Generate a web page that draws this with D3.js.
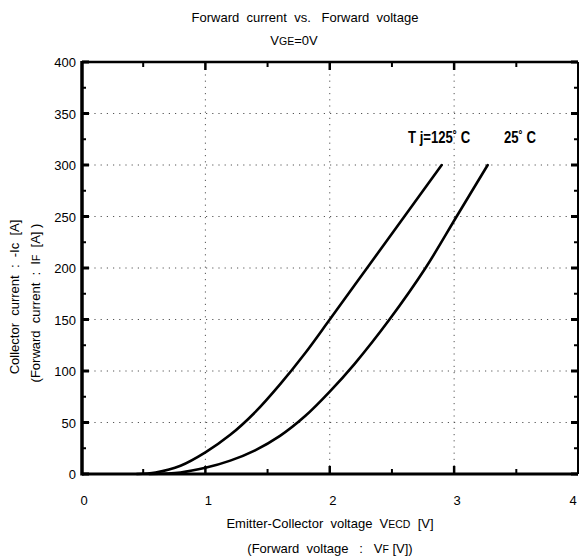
<!DOCTYPE html>
<html><head><meta charset="utf-8">
<script src="https://cdn.jsdelivr.net/npm/d3@7"></script>
<style>body{margin:0;background:#fff}svg{display:block}text{font-family:Arial,"Liberation Sans",sans-serif;fill:#000}</style>
</head><body><svg id="c" width="579" height="558"></svg>
<script>
const xTicks = [0, 1, 2, 3, 4];
const yTicks = [0, 50, 100, 150, 200, 250, 300, 350, 400];
const series125 = [[0.45,0],[0.6,1.5],[0.8,8],[1.0,21],[1.2,38],[1.4,60],[1.6,87],[1.8,117],[2.0,150],[2.3,200],[2.6,250],[2.9,300]];
const series25 = [[0.55,0],[0.8,1.5],[1.0,6],[1.2,13],[1.4,23],[1.6,37],[1.8,56],[2.0,80],[2.2,107],[2.48,150],[2.77,200],[3.02,250],[3.27,300]];

const svg = d3.select("#c");
const L = 82, R = 578, T = 62, B = 474;
const x = d3.scaleLinear().domain([0,4]).range([81,578.5]);
const y = d3.scaleLinear().domain([0,400]).range([B,T]);

// grid
const g = svg.append("g").attr("stroke","#555").attr("stroke-width",1).attr("stroke-dasharray","1.2,5");
[1,2,3].forEach(v=>g.append("line").attr("x1",x(v)).attr("x2",x(v)).attr("y1",T).attr("y2",B));
[50,100,150,200,250,300,350].forEach(v=>g.append("line").attr("x1",L).attr("x2",R).attr("y1",y(v)).attr("y2",y(v)));

// ticks (inward)
const tk = svg.append("g").attr("stroke","#000");
d3.range(0.5,4.01,0.5).forEach(v=>{
  const maj = Math.abs(v-Math.round(v))<1e-6;
  tk.append("line").attr("x1",x(v)).attr("x2",x(v)).attr("y1",B).attr("y2",B-(maj?8:5)).attr("stroke-width",maj?2.5:2);
  tk.append("line").attr("x1",x(v)).attr("x2",x(v)).attr("y1",T).attr("y2",T+(maj?8:5)).attr("stroke-width",maj?2.5:2);
});
d3.range(0,401,25).forEach(v=>{
  const maj = v%50===0;
  tk.append("line").attr("x1",L).attr("x2",L+(maj?7:4)).attr("y1",y(v)).attr("y2",y(v)).attr("stroke-width",maj?3:2);
  tk.append("line").attr("x1",R).attr("x2",R-(maj?7:4)).attr("y1",y(v)).attr("y2",y(v)).attr("stroke-width",maj?3:2);
});

// frame
svg.append("line").attr("x1",L).attr("x2",R).attr("y1",T).attr("y2",T).attr("stroke","#000").attr("stroke-width",2.5);
svg.append("line").attr("x1",R).attr("x2",R).attr("y1",T).attr("y2",B).attr("stroke","#000").attr("stroke-width",2);
svg.append("line").attr("x1",L).attr("x2",R).attr("y1",B).attr("y2",B).attr("stroke","#000").attr("stroke-width",3);
svg.append("line").attr("x1",L).attr("x2",L).attr("y1",T-1).attr("y2",B+1.5).attr("stroke","#000").attr("stroke-width",3.5);

// tick labels
svg.append("g").selectAll("text").data(xTicks).join("text")
  .attr("x",d=>Math.min(x(d)+3,573)).attr("y",505).attr("text-anchor","middle").attr("font-size",13).text(d=>d);
svg.append("g").selectAll("text").data(yTicks).join("text")
  .attr("x",76).attr("y",d=>y(d)+5).attr("text-anchor","end").attr("font-size",13).text(d=>d);

// curves
const line = d3.line().x(d=>x(d[0])).y(d=>y(d[1])).curve(d3.curveCatmullRom.alpha(0.5));
[series125, series25].forEach(s=>svg.append("path").attr("d",line(s)).attr("fill","none").attr("stroke","#000").attr("stroke-width",2.6).attr("stroke-linecap","round"));

// curve labels
const lab = svg.append("g").attr("font-weight","bold").attr("font-size",16)
  .style("font-family","'Liberation Sans Narrow','DejaVu Sans Condensed',Arial,sans-serif");
lab.append("text").attr("transform","translate(408,143) scale(0.82,1)").attr("xml:space","preserve").text("T j=125˚ C");
lab.append("text").attr("transform","translate(504,143) scale(0.82,1)").attr("xml:space","preserve").text("25˚ C");

// title
svg.append("text").attr("x",305).attr("y",22).attr("text-anchor","middle").attr("font-size",13)
  .attr("xml:space","preserve").text("Forward  current  vs.   Forward  voltage");
const t2 = svg.append("text").attr("x",294).attr("y",45).attr("text-anchor","middle").attr("font-size",13);
t2.append("tspan").text("V"); t2.append("tspan").attr("font-size",10.5).text("GE"); t2.append("tspan").text("=0V");

// x axis title
const xt = svg.append("text").attr("x",330).attr("y",528).attr("text-anchor","middle").attr("font-size",13).attr("xml:space","preserve");
xt.append("tspan").text("Emitter-Collector  voltage  V"); xt.append("tspan").attr("font-size",10.5).text("ECD"); xt.append("tspan").text("  [V]");
const xt2 = svg.append("text").attr("x",330).attr("y",553).attr("text-anchor","middle").attr("font-size",13).attr("xml:space","preserve");
xt2.append("tspan").text("(Forward  voltage   :   V"); xt2.append("tspan").attr("font-size",10.5).text("F"); xt2.append("tspan").text(" [V])");

// y axis title
const yt = svg.append("text").attr("transform","translate(19,297) rotate(-90)").attr("text-anchor","middle").attr("font-size",13).attr("xml:space","preserve");
yt.append("tspan").text("Collector  current  :  -Ic  [A]");
const yt2 = svg.append("text").attr("transform","translate(40,303) rotate(-90)").attr("text-anchor","middle").attr("font-size",13).attr("xml:space","preserve");
yt2.append("tspan").text("(Forward  current  :  I"); yt2.append("tspan").attr("font-size",10.5).text("F"); yt2.append("tspan").text("  [A] )");
</script></body></html>
